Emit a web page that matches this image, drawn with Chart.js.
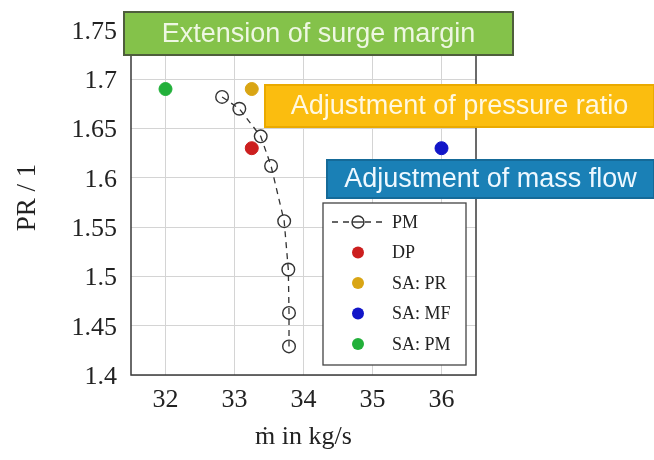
<!DOCTYPE html>
<html>
<head>
<meta charset="utf-8">
<script src="https://cdn.jsdelivr.net/npm/chart.js@4/dist/chart.umd.min.js"></script>
<style>
  html, body { margin: 0; padding: 0; background: #fff; }
  #wrap { width: 654px; height: 460px; }
</style>
</head>
<body>
<div id="wrap"><canvas id="prChart" width="654" height="460"></canvas></div>
<script>
// mass flow (kg/s) and pressure ratio along the PM line
const pmFlow  = [32.82, 33.07, 33.38, 33.53, 33.72, 33.78, 33.79, 33.79];
const pmRatio = [1.682, 1.670, 1.642, 1.612, 1.556, 1.507, 1.463, 1.429];

// single operating points
const dpPoint   = [33.25, 1.63];
const saPrPoint = [33.25, 1.69];
const saMfPoint = [36.0, 1.63];
const saPmPoint = [32.0, 1.69];

const xTicks = [32, 33, 34, 35, 36];
const yTicks = [1.4, 1.45, 1.5, 1.55, 1.6, 1.65, 1.7, 1.75];

const serif = '"Liberation Serif", "DejaVu Serif", serif';
const sans = '"Liberation Sans", Arial, sans-serif';

const pt = p => [{ x: p[0], y: p[1] }];

const datasets = [
  {
    label: 'PM',
    data: pmFlow.map((x, i) => ({ x, y: pmRatio[i] })),
    showLine: true,
    borderColor: '#333',
    borderWidth: 1.3,
    borderDash: [6, 5],
    pointRadius: 6.3,
    pointBorderWidth: 1.4,
    pointBorderColor: '#333',
    pointBackgroundColor: 'rgba(0,0,0,0)'
  },
  { label: 'DP',     data: pt(dpPoint),   pointRadius: 6.5, pointBackgroundColor: '#cc1f1f', pointBorderColor: '#cc1f1f' },
  { label: 'SA: PR', data: pt(saPrPoint), pointRadius: 6.5, pointBackgroundColor: '#d9a514', pointBorderColor: '#d9a514' },
  { label: 'SA: MF', data: pt(saMfPoint), pointRadius: 6.5, pointBackgroundColor: '#1216c8', pointBorderColor: '#1216c8' },
  { label: 'SA: PM', data: pt(saPmPoint), pointRadius: 6.5, pointBackgroundColor: '#22b03a', pointBorderColor: '#22b03a' }
];

// frame around the plot area
const framePlugin = {
  id: 'frame',
  beforeDatasetsDraw(chart) {
    const { ctx, chartArea: a } = chart;
    ctx.save();
    ctx.strokeStyle = '#3a3a3a';
    ctx.lineWidth = 1.5;
    ctx.strokeRect(a.left, a.top, a.right - a.left, a.bottom - a.top);
    ctx.restore();
  }
};

// legend box inside the plot
const legendPlugin = {
  id: 'innerLegend',
  afterDatasetsDraw(chart) {
    const { ctx } = chart;
    const bx = 323, by = 203, bw = 143, bh = 162;
    ctx.save();
    ctx.fillStyle = '#fff';
    ctx.fillRect(bx, by, bw, bh);
    ctx.strokeStyle = '#444';
    ctx.lineWidth = 1.3;
    ctx.strokeRect(bx, by, bw, bh);
    ctx.font = '18px ' + serif;
    ctx.textBaseline = 'middle';
    chart.data.datasets.forEach((ds, i) => {
      const y = 222 + i * 30.5;
      const cx = 358;
      if (ds.showLine) {
        ctx.strokeStyle = ds.borderColor;
        ctx.lineWidth = ds.borderWidth;
        ctx.setLineDash(ds.borderDash);
        ctx.beginPath();
        ctx.moveTo(332, y);
        ctx.lineTo(384, y);
        ctx.stroke();
        ctx.setLineDash([]);
        ctx.lineWidth = ds.pointBorderWidth;
        ctx.beginPath();
        ctx.arc(cx, y, 6, 0, Math.PI * 2);
        ctx.fillStyle = '#fff';
        ctx.fill();
        ctx.stroke();
        ctx.beginPath();
        ctx.moveTo(cx - 6, y);
        ctx.lineTo(cx + 6, y);
        ctx.stroke();
      } else {
        ctx.fillStyle = ds.pointBackgroundColor;
        ctx.beginPath();
        ctx.arc(cx, y, 6, 0, Math.PI * 2);
        ctx.fill();
      }
      ctx.fillStyle = '#222';
      ctx.textAlign = 'left';
      ctx.fillText(ds.label, 392, y + 1);
    });
    ctx.restore();
  }
};

// coloured annotation banners
const banners = [
  { text: 'Extension of surge margin',    x: 124, y: 12,  w: 389, h: 43, fill: '#84c24a', stroke: '#4e5e3c', color: '#eef7e2' },
  { text: 'Adjustment of pressure ratio', x: 265, y: 85,  w: 389, h: 42, fill: '#fbbd0f', stroke: '#eaaa00', color: '#fff8e0' },
  { text: 'Adjustment of mass flow',      x: 327, y: 160, w: 327, h: 38, fill: '#1a80b6', stroke: '#156a98', color: '#eef8ff' }
];

const bannerPlugin = {
  id: 'banners',
  afterDraw(chart) {
    const { ctx } = chart;
    ctx.save();
    banners.forEach(b => {
      ctx.fillStyle = b.fill;
      ctx.fillRect(b.x, b.y, b.w, b.h);
      ctx.strokeStyle = b.stroke;
      ctx.lineWidth = 2;
      ctx.strokeRect(b.x, b.y, b.w, b.h);
      ctx.fillStyle = b.color;
      ctx.font = '27px ' + sans;
      ctx.textAlign = 'center';
      ctx.textBaseline = 'middle';
      ctx.fillText(b.text, b.x + b.w / 2, b.y + b.h / 2 + 1);
    });
    ctx.restore();
  }
};

new Chart(document.getElementById('prChart'), {
  type: 'scatter',
  data: { datasets },
  options: {
    responsive: false,
    animation: false,
    layout: { padding: { top: 20, right: 178, bottom: 0, left: 0 } },
    plugins: { legend: { display: false }, tooltip: { enabled: false } },
    scales: {
      x: {
        min: 31.5, max: 36.5,
        afterBuildTicks: s => { s.ticks = xTicks.map(v => ({ value: v })); },
        afterFit: s => { s.height = 85; s.paddingLeft = 0; s.paddingRight = 0; },
        grid: { color: '#d4d4d4', drawTicks: false },
        border: { display: false },
        ticks: { color: '#222', padding: 10, font: { family: serif, size: 26 }, callback: v => String(v) },
        title: { display: true, text: 'ṁ in kg/s', color: '#222', font: { family: serif, size: 26 }, padding: { bottom: 7 } }
      },
      y: {
        min: 1.4, max: 1.76,
        afterBuildTicks: s => { s.ticks = yTicks.map(v => ({ value: v })); },
        afterFit: s => { s.width = 131; s.paddingTop = 0; s.paddingBottom = 0; },
        grid: { color: '#d4d4d4', drawTicks: false },
        border: { display: false },
        ticks: { color: '#222', padding: 14, labelOffset: 2, font: { family: serif, size: 26 }, callback: v => String(v) },
        title: { display: true, text: 'PR / 1', color: '#222', font: { family: serif, size: 27 }, padding: { top: 12 } }
      }
    }
  },
  plugins: [framePlugin, legendPlugin, bannerPlugin]
});
</script>
</body>
</html>
